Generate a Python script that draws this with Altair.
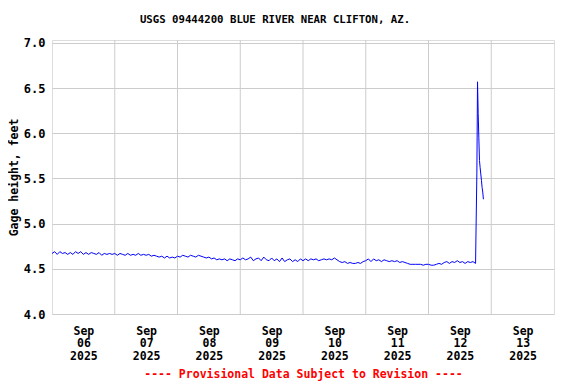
import altair as alt
import pandas as pd

TITLE = "USGS 09444200 BLUE RIVER NEAR CLIFTON, AZ."
Y_TITLE = "Gage height, feet"
FOOTER = "---- Provisional Data Subject to Revision ----"

# Hourly gage height readings (feet), local time, starting at 00:00 each day
sep06 = [4.67, 4.69, 4.66, 4.69, 4.67, 4.68, 4.66, 4.68, 4.66, 4.69, 4.67, 4.69,
         4.66, 4.68, 4.66, 4.68, 4.67, 4.66, 4.68, 4.65, 4.67, 4.66, 4.67, 4.66]
sep07 = [4.67, 4.65, 4.67, 4.66, 4.65, 4.67, 4.65, 4.66, 4.65, 4.67, 4.65, 4.66,
         4.65, 4.66, 4.64, 4.65, 4.64, 4.63, 4.64, 4.62, 4.64, 4.62, 4.63, 4.62]
sep08 = [4.64, 4.63, 4.65, 4.64, 4.63, 4.65, 4.64, 4.63, 4.65, 4.64, 4.63, 4.62,
         4.63, 4.61, 4.62, 4.60, 4.61, 4.60, 4.61, 4.59, 4.61, 4.60, 4.59, 4.61]
sep09 = [4.60, 4.62, 4.60, 4.61, 4.63, 4.59, 4.61, 4.62, 4.59, 4.63, 4.60, 4.59,
         4.62, 4.59, 4.61, 4.58, 4.62, 4.58, 4.60, 4.61, 4.58, 4.60, 4.58, 4.61]
sep10 = [4.59, 4.61, 4.59, 4.61, 4.60, 4.61, 4.59, 4.60, 4.61, 4.60, 4.61, 4.60,
         4.62, 4.60, 4.58, 4.57, 4.58, 4.56, 4.57, 4.56, 4.56, 4.57, 4.56, 4.58]
sep11 = [4.59, 4.61, 4.58, 4.61, 4.59, 4.60, 4.58, 4.60, 4.59, 4.58, 4.59, 4.58,
         4.59, 4.57, 4.58, 4.57, 4.56, 4.55, 4.55, 4.55, 4.55, 4.55, 4.54, 4.55]
sep12 = [4.55, 4.54, 4.54, 4.55, 4.56, 4.55, 4.57, 4.58, 4.56, 4.58, 4.57, 4.59,
         4.57, 4.58, 4.56, 4.58, 4.57, 4.58, 4.56]

# 15-minute readings during the rise on Sep 12
spike_times = ["2025-09-12T18:30", "2025-09-12T18:45", "2025-09-12T19:00",
               "2025-09-12T19:15", "2025-09-12T19:30", "2025-09-12T19:45",
               "2025-09-12T20:00", "2025-09-12T20:15", "2025-09-12T20:30",
               "2025-09-12T20:45", "2025-09-12T21:00"]
spike_vals = [5.56, 6.57, 6.22, 5.95, 5.70, 5.62, 5.55, 5.48, 5.40, 5.35, 5.27]

grid_days = ["2025-09-07T00:00", "2025-09-08T00:00", "2025-09-09T00:00",
             "2025-09-10T00:00", "2025-09-11T00:00", "2025-09-12T00:00",
             "2025-09-13T00:00"]
label_days = [6, 7, 8, 9, 10, 11, 12, 13]
y_ticks = [4.0, 4.5, 5.0, 5.5, 6.0, 6.5, 7.0]

hourly_vals = sep06 + sep07 + sep08 + sep09 + sep10 + sep11 + sep12
hourly_times = pd.date_range("2025-09-06 00:00", periods=len(hourly_vals), freq="h")
times = [t.strftime("%Y-%m-%dT%H:%M") for t in hourly_times] + spike_times
df = pd.DataFrame({"time": times, "gage": hourly_vals + spike_vals})
grid_df = pd.DataFrame({"time": grid_days})

FONT = "DejaVu Sans Mono"

x_scale = alt.Scale(domain=[alt.DateTime(year=2025, month=9, date=6),
                            alt.DateTime(year=2025, month=9, date=14)])
x_axis = alt.Axis(
    values=[alt.DateTime(year=2025, month=9, date=d, hours=12) for d in label_days],
    labelExpr="[timeFormat(datum.value, '%b'), timeFormat(datum.value, '%d'), timeFormat(datum.value, '%Y')]",
    grid=False, ticks=False, domain=False,
    labelFont=FONT, labelFontWeight="bold", labelFontSize=11.5, labelColor="black",
    labelPadding=11, labelLineHeight=12.7, labelAlign="center",
    titleFont=FONT, titleFontWeight="bold", titleFontSize=11.5, titleColor="#ff0000",
    titlePadding=7,
)
y_axis = alt.Axis(
    values=y_ticks, format=".1f", grid=True, gridColor="#cccccc", gridWidth=1,
    ticks=False, domain=False,
    labelFont=FONT, labelFontWeight="bold", labelFontSize=12, labelColor="black",
    labelPadding=7,
    titleFont=FONT, titleFontWeight="bold", titleFontSize=11.5, titleColor="black",
    titlePadding=4,
)

grid = alt.Chart(grid_df).mark_rule(color="#cccccc", strokeWidth=1).encode(
    x=alt.X("time:T", scale=x_scale, axis=x_axis, title=FOOTER)
)

line = alt.Chart(df).mark_line(color="#0000ff", strokeWidth=1, interpolate="linear").encode(
    x=alt.X("time:T", scale=x_scale, axis=x_axis, title=FOOTER),
    y=alt.Y("gage:Q", scale=alt.Scale(domain=[4.0, 7.033], nice=False, zero=False),
            axis=y_axis, title=Y_TITLE),
)

chart = alt.layer(grid, line).properties(
    width=502,
    height=274,
    autosize=alt.AutoSizeParams(type="none"),
    padding={"left": 44, "top": 32, "right": 14, "bottom": 70},
    title=alt.TitleParams(text=TITLE, font=FONT, fontSize=10.7, fontWeight="bold",
                          color="black", anchor="middle", dx=-28, offset=11),
).configure_view(stroke="black", strokeWidth=1).configure(background="white")

chart.save("out.html", embed_options={"renderer": "svg", "actions": False})
